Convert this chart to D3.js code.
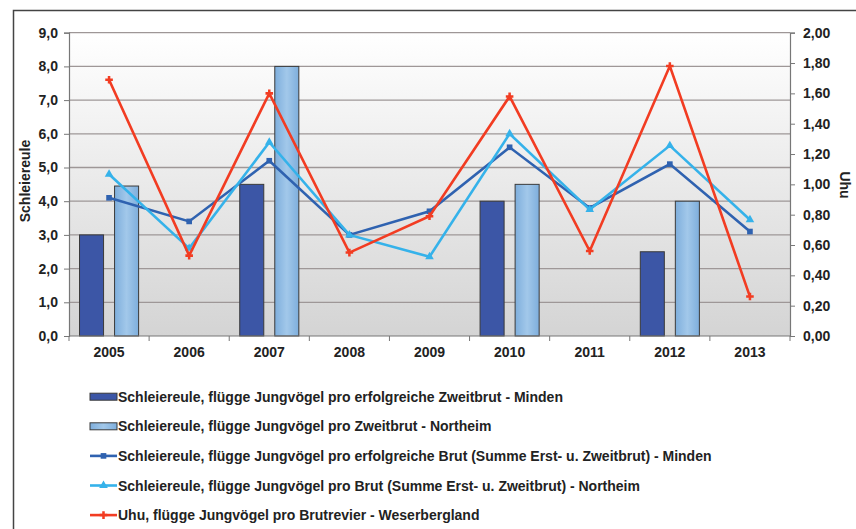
<!DOCTYPE html>
<html>
<head>
<meta charset="utf-8">
<script src="https://cdn.jsdelivr.net/npm/d3@7"></script>
<style>
  body { margin: 0; background: #fff; }
  text { font-family: "Liberation Sans", Arial, sans-serif; font-weight: bold; fill: #222; }
</style>
</head>
<body>
<svg id="chart" width="856" height="529"></svg>
<script>
var years = ["2005", "2006", "2007", "2008", "2009", "2010", "2011", "2012", "2013"];

// bars (left axis), null = no value
var zweitMinden   = [3.0, null, 4.5, null, null, 4.0, null, 2.5, null];
var zweitNortheim = [4.45, null, 8.0, null, null, 4.5, null, 4.0, null];

// lines
var brutMinden   = [4.1, 3.4, 5.2, 3.0, 3.7, 5.6, 3.8, 5.1, 3.1];
var brutNortheim = [4.8, 2.6, 5.75, 3.0, 2.35, 6.0, 3.75, 5.65, 3.45];
var uhu          = [1.69, 0.53, 1.6, 0.55, 0.79, 1.58, 0.56, 1.78, 0.26]; // right axis

var leftTicks  = [0, 1, 2, 3, 4, 5, 6, 7, 8, 9];
var rightTicks = [0, 0.2, 0.4, 0.6, 0.8, 1.0, 1.2, 1.4, 1.6, 1.8, 2.0];

var legendLabels = [
  "Schleiereule, flügge Jungvögel pro erfolgreiche Zweitbrut - Minden",
  "Schleiereule, flügge Jungvögel pro Zweitbrut - Northeim",
  "Schleiereule, flügge Jungvögel pro erfolgreiche Brut (Summe Erst- u. Zweitbrut) - Minden",
  "Schleiereule, flügge Jungvögel pro Brut (Summe Erst- u. Zweitbrut) - Northeim",
  "Uhu, flügge Jungvögel pro Brutrevier - Weserbergland"
];

var col = {
  darkBar: "#3c56a6",
  lightBar: "#8fbbe3",
  darkLine: "#2f62b0",
  lightLine: "#35b2ea",
  red: "#f23c22"
};

var svg = d3.select("#chart");
var plot = { left: 69, right: 790, top: 32.7, bottom: 336 };

var de = d3.formatLocale({ decimal: ",", thousands: ".", grouping: [3], currency: ["", " €"] });

var defs = svg.append("defs");
var bg = defs.append("linearGradient").attr("id", "bg")
  .attr("x1", 0).attr("y1", 0).attr("x2", 0).attr("y2", 1);
bg.append("stop").attr("offset", "0%").attr("stop-color", "#ffffff");
bg.append("stop").attr("offset", "100%").attr("stop-color", "#d4d4d4");

var lg = defs.append("linearGradient").attr("id", "lightbar")
  .attr("x1", 0).attr("y1", 0).attr("x2", 1).attr("y2", 0);
lg.append("stop").attr("offset", "0%").attr("stop-color", "#7eaedc");
lg.append("stop").attr("offset", "50%").attr("stop-color", "#a2c8ea");
lg.append("stop").attr("offset", "100%").attr("stop-color", "#7eaedc");

// frame
svg.append("rect").attr("x", 13.5).attr("y", 10.5).attr("width", 860).attr("height", 540)
  .attr("fill", "none").attr("stroke", "#444").attr("stroke-width", 1.5);

var x = d3.scaleBand().domain(years).range([plot.left, plot.right]);
var xs = d3.scaleBand().domain([0, 1]).range([0, x.bandwidth()]).paddingInner(0.314).paddingOuter(0.3);
var yL = d3.scaleLinear().domain([0, 9]).range([plot.bottom, plot.top]);
var yR = d3.scaleLinear().domain([0, 2]).range([plot.bottom, plot.top]);

svg.append("rect").attr("x", plot.left).attr("y", plot.top)
  .attr("width", plot.right - plot.left).attr("height", plot.bottom - plot.top)
  .attr("fill", "url(#bg)");

// gridlines
svg.append("g").selectAll("line").data(leftTicks.slice(1)).join("line")
  .attr("x1", plot.left).attr("x2", plot.right)
  .attr("y1", function(d) { return yL(d); }).attr("y2", function(d) { return yL(d); })
  .attr("stroke", "#9e9797").attr("stroke-width", 1.3);

// bars
var barData = [];
years.forEach(function(y, i) {
  if (zweitMinden[i] != null) barData.push({ year: y, k: 0, v: zweitMinden[i] });
  if (zweitNortheim[i] != null) barData.push({ year: y, k: 1, v: zweitNortheim[i] });
});
svg.append("g").selectAll("rect").data(barData).join("rect")
  .attr("x", function(d) { return x(d.year) + xs(d.k); })
  .attr("width", xs.bandwidth())
  .attr("y", function(d) { return yL(d.v); })
  .attr("height", function(d) { return plot.bottom - yL(d.v); })
  .attr("fill", function(d) { return d.k == 0 ? col.darkBar : "url(#lightbar)"; })
  .attr("stroke", "#3a3a3a").attr("stroke-width", 1);

// axes
var leftAxis = svg.append("g").attr("transform", "translate(" + plot.left + ",0)")
  .call(d3.axisLeft(yL).tickValues(leftTicks).tickFormat(de.format(".1f")).tickSize(5).tickPadding(6));
var rightAxis = svg.append("g").attr("transform", "translate(" + plot.right + ",0)")
  .call(d3.axisRight(yR).tickValues(rightTicks).tickFormat(de.format(".2f")).tickSize(5).tickPadding(8));
var bottomAxis = svg.append("g").attr("transform", "translate(0," + plot.bottom + ")")
  .call(d3.axisBottom(x).tickSize(0).tickPadding(11));
bottomAxis.append("g").selectAll("line").data(years.concat(["end"])).join("line")
  .attr("x1", function(d) { return d == "end" ? plot.right : x(d); })
  .attr("x2", function(d) { return d == "end" ? plot.right : x(d); })
  .attr("y1", 0).attr("y2", 5).attr("stroke", "#777");

[leftAxis, rightAxis, bottomAxis].forEach(function(a) {
  a.select(".domain").attr("stroke", "#777").attr("stroke-width", 1.2);
  a.selectAll(".tick line").attr("stroke", "#777");
  a.selectAll("text").style("font-family", "Liberation Sans, Arial, sans-serif")
    .style("font-weight", "bold").style("font-size", "14px").attr("fill", "#222");
});
bottomAxis.select(".domain").attr("d", "M" + plot.left + ",0H" + plot.right);

// axis titles
svg.append("text").attr("transform", "translate(30,181) rotate(-90)")
  .attr("text-anchor", "middle").style("font-size", "14px").text("Schleiereule");
svg.append("text").attr("transform", "translate(840,185) rotate(90)")
  .attr("text-anchor", "middle").style("font-size", "14px").text("Uhu");

// lines
var cx = function(i) { return x(years[i]) + x.bandwidth() / 2; };
var lines = [
  { data: brutMinden, y: yL, color: col.darkLine, marker: "square" },
  { data: brutNortheim, y: yL, color: col.lightLine, marker: "triangle" },
  { data: uhu, y: yR, color: col.red, marker: "cross" }
];
var symbols = { square: d3.symbolSquare, triangle: d3.symbolTriangle, cross: d3.symbolCross };

lines.forEach(function(s) {
  var line = d3.line().x(function(d, i) { return cx(i); }).y(function(d) { return s.y(d); });
  svg.append("path").datum(s.data).attr("d", line)
    .attr("fill", "none").attr("stroke", s.color).attr("stroke-width", 2.6);
  svg.append("g").selectAll("path").data(s.data).join("path")
    .attr("transform", function(d, i) { return "translate(" + cx(i) + "," + s.y(d) + ")"; })
    .attr("d", d3.symbol().type(symbols[s.marker]).size(32))
    .attr("fill", s.color);
});

// legend
var legend = svg.append("g");
var rows = legend.selectAll("g").data(legendLabels).join("g")
  .attr("transform", function(d, i) { return "translate(90," + (396.7 + i * 29.6) + ")"; });
rows.each(function(d, i) {
  var g = d3.select(this);
  if (i < 2) {
    g.append("rect").attr("x", 0).attr("y", -3.5).attr("width", 27).attr("height", 7)
      .attr("fill", i == 0 ? col.darkBar : "url(#lightbar)").attr("stroke", "#3a3a3a").attr("stroke-width", 1);
  } else {
    var s = lines[i - 2];
    g.append("line").attr("x1", 0).attr("x2", 27).attr("stroke", s.color).attr("stroke-width", 2.6);
    g.append("path").attr("transform", "translate(13.5,0)")
      .attr("d", d3.symbol().type(symbols[s.marker]).size(32)).attr("fill", s.color);
  }
  g.append("text").attr("x", 28).attr("y", 5).style("font-size", "14px").text(d);
});
</script>
</body>
</html>
